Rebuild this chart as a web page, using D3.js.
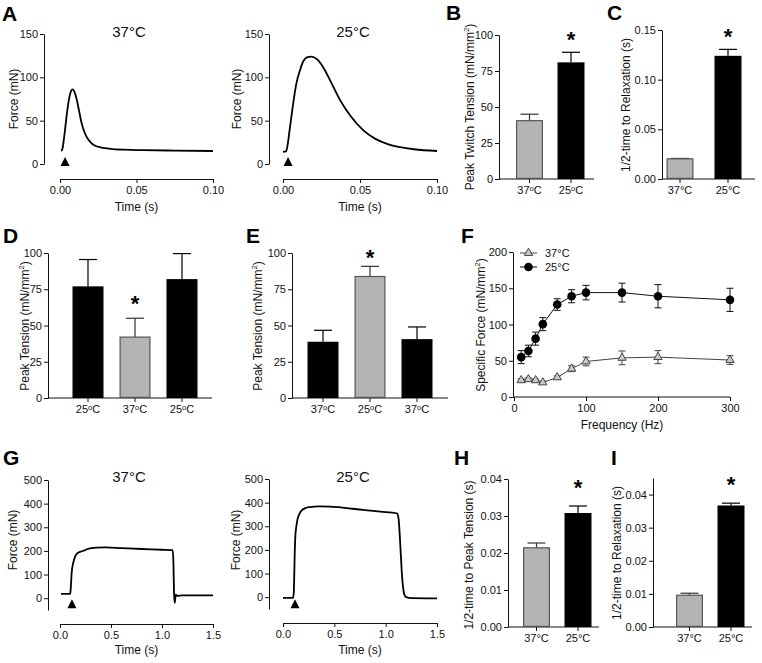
<!DOCTYPE html>
<html><head><meta charset="utf-8">
<script src="https://cdn.jsdelivr.net/npm/d3@7"></script>
<style>body{margin:0;background:#fff}svg{display:block}</style>
</head><body><svg id="fig" width="762" height="663"></svg>
<script>
// ---------------- DATA ----------------
// A: single twitch traces (time s, force mN)
const twitch37T = [0.0008,0.0015,0.003,0.0045,0.006,0.0072,0.0083,0.0095,0.011,0.0125,0.014,0.0157,0.0175,0.02,0.023,0.027,0.033,0.042,0.055,0.075,0.1];
const twitch37F = [15,17,35,58,76,84,86,83,74,61,48,38,31,25,21,19,17.5,16.5,16,15.5,15];
const twitch25T = [0,0.002,0.003,0.0045,0.006,0.0087,0.011,0.013,0.0155,0.0185,0.022,0.026,0.031,0.037,0.044,0.052,0.06,0.068,0.076,0.085,0.1];
const twitch25F = [14,14.5,22,42,62,93,108,118,123,124,121,112,95,74,55,39,29,23,19.5,17,15];
// G: tetanic traces
const tet37T = [0.01,0.1,0.105,0.115,0.13,0.15,0.17,0.19,0.21,0.24,0.27,0.31,0.36,0.45,0.6,0.8,1.0,1.105,1.112,1.118,1.125,1.135,1.15,1.2,1.5];
const tet37F = [18,18,40,110,150,178,190,195,198,202,208,212,214,215,212,208,205,203,150,20,-20,15,10,12,12];
const tet25T = [0,0.098,0.105,0.11,0.115,0.12,0.13,0.14,0.16,0.18,0.22,0.26,0.35,0.46,0.6,0.78,0.95,1.11,1.125,1.14,1.15,1.158,1.17,1.18,1.2,1.25,1.5];
const tet25F = [-3,-3,20,100,200,256,300,327,352,366,377,381,384,383,378,369,362,355,334,241,160,99,40,14,0,-4,-5];
const stimTwitch = 0.0033, stimTet = 0.117;

// B
const catsB = ["37°C","25°C"], valsB = [40.5, 81], errB = [4.5, 7];
// C
const catsC = ["37°C","25°C"], valsC = [0.0203, 0.124], errC = [0.0004, 0.0065];
// D
const catsD = ["25°C","37°C","25°C"], valsD = [77, 42, 82], errD = [18.5, 13, 17.6];
// E
const catsE = ["37°C","25°C","37°C"], valsE = [38.8, 83.8, 40.6], errE = [7.9, 7, 8.4];
// F
const freqF = [10,20,30,40,60,80,100,150,200,300];
const f25 = [55,63.5,80.5,100.5,127.5,139,144,144,139,134];
const f25err = [9,8,9,9,8,9,10,13,16,16];
const f37 = [23,24.5,23,20,27,39,49,54,55,51];
const f37err = [2,2,2,2,2,4,6,9.5,9,6];
// H
const catsH = ["37°C","25°C"], valsH = [0.0214, 0.0308], errH = [0.0013, 0.0019];
// I
const catsI = ["37°C","25°C"], valsI = [0.0096, 0.0367], errI = [0.0006, 0.0007];

// ---------------- DRAWING ----------------
const FONT = '"Liberation Sans", Arial, Helvetica, sans-serif';
const INK = "#111";
const GRAY = "#b4b4b4", GRAY_STROKE = "#555";
const svg = d3.select("#fig").attr("font-family", FONT);
svg.append("rect").attr("width",762).attr("height",663).attr("fill","#fff");

function styleAxis(g, fs){
  g.selectAll("path, line").attr("stroke", INK).attr("stroke-width", 1);
  g.selectAll("text").attr("fill", INK).attr("font-size", fs || 11).attr("font-family", FONT);
}
function letter(t, x, y){
  svg.append("text").attr("x", x).attr("y", y).text(t)
    .attr("font-size", 21).attr("font-weight", "bold").attr("fill", "#000");
}
// rich text: parts are strings or {sup:"2"}
function rich(sel, parts, fs){
  let shift = 0;
  parts.forEach(p => {
    if (typeof p === "string") {
      const t = sel.append("tspan").text(p);
      if (shift) { t.attr("dy", shift); shift = 0; }
    } else {
      sel.append("tspan").attr("dy", -fs*0.38).attr("font-size", fs*0.65).text(p.sup);
      shift = fs*0.38;
    }
  });
}
function yTitle(x, y, parts, fs){
  const t = svg.append("text").attr("transform", `translate(${x},${y}) rotate(-90)`)
    .attr("text-anchor", "middle").attr("font-size", fs).attr("fill", INK);
  rich(t, parts, fs);
}
function hText(x, y, str, fs, anchor){
  svg.append("text").attr("x", x).attr("y", y).attr("text-anchor", anchor || "middle")
    .attr("font-size", fs).attr("fill", INK).text(str);
}
function star(x, yc){
  svg.append("text").attr("x", x).attr("y", yc + 12).attr("text-anchor", "middle")
    .attr("font-size", 22).attr("font-weight", "bold").attr("fill", "#000").text("*");
}

function tracePanel(c){
  const x = d3.scaleLinear().domain(c.xDomain).range(c.xRange);
  const y = d3.scaleLinear().domain(c.yDomain).range(c.yRange);
  const gy = svg.append("g").attr("transform", `translate(${c.yAxisX},0)`)
    .call(d3.axisLeft(y).tickValues(c.yTicks).tickSize(4).tickSizeOuter(0).tickPadding(2));
  styleAxis(gy);
  const gx = svg.append("g").attr("transform", `translate(0,${c.xAxisY})`)
    .call(d3.axisBottom(x).tickValues(c.xTicks).tickFormat(d3.format(c.xFmt)).tickSize(4).tickSizeOuter(0).tickPadding(3));
  styleAxis(gx);
  const line = d3.line().x((d,i)=>x(c.T[i])).y((d,i)=>y(c.F[i])).curve(d3.curveMonotoneX);
  svg.append("path").datum(c.F).attr("d", line).attr("fill","none")
    .attr("stroke","#000").attr("stroke-width",1.8).attr("stroke-linejoin","round");
  const sx = x(c.stim), by = y(0) + c.stimOff;
  svg.append("path").attr("d", `M${sx-4.5},${by} L${sx+4.5},${by} L${sx},${by-9} Z`).attr("fill","#000");
  hText(c.titleX, c.titleY, c.title, 15);
  hText((c.xRange[0]+c.xRange[1])/2, c.xlabY, "Time (s)", 12);
  yTitle(c.ylabX, c.ylabY, ["Force (mN)"], 12);
}

function degLabel(sel, str){
  // "37°C" drawn with small superscript o
  const num = str.replace("°C","");
  sel.text(null);
  sel.append("tspan").text(num);
  sel.append("tspan").attr("dy", -3).attr("font-size", 7.5).text("o");
  sel.append("tspan").attr("dy", 3).text("C");
}

function barPanel(c){
  const n = c.cats.length;
  const y = d3.scaleLinear().domain(c.yDomain).range(c.yRange);
  const pad = 1 - c.bw / c.step;
  const xb = d3.scaleBand().domain(d3.range(n))
    .range([c.c0 - c.step/2, c.c0 + c.step*(n - 0.5)]).paddingInner(pad).paddingOuter(pad/2);
  const gy = svg.append("g").attr("transform", `translate(${c.axisX},0)`)
    .call(d3.axisLeft(y).tickValues(c.yTicks).tickFormat(c.yFmt ? d3.format(c.yFmt) : null)
      .tickSize(4).tickSizeOuter(0).tickPadding(2));
  styleAxis(gy);
  const gx = svg.append("g").attr("transform", `translate(0,${c.yRange[0]})`)
    .call(d3.axisBottom(xb).tickFormat(i => c.cats[i]).tickSize(4).tickSizeOuter(0).tickPadding(3));
  gx.select(".domain").remove();
  gx.append("line").attr("x1", c.axisX).attr("x2", c.axisEnd);
  styleAxis(gx);
  if (c.smallDeg) gx.selectAll(".tick text").each(function(i){ degLabel(d3.select(this), c.cats[i]); });
  // error bars (upper only)
  c.vals.forEach((v, i) => {
    const cx = xb(i) + xb.bandwidth()/2;
    const col = c.fills[i] === "k" ? "#000" : "#333";
    svg.append("line").attr("x1", cx).attr("x2", cx).attr("y1", y(v)).attr("y2", y(v + c.errs[i]))
      .attr("stroke", col).attr("stroke-width", 1.2);
    svg.append("line").attr("x1", cx - 9).attr("x2", cx + 9).attr("y1", y(v + c.errs[i])).attr("y2", y(v + c.errs[i]))
      .attr("stroke", col).attr("stroke-width", 1.2);
  });
  c.vals.forEach((v, i) => {
    const g = c.fills[i] !== "k";
    svg.append("rect").attr("x", xb(i) + (g ? 0.6 : 0)).attr("width", xb.bandwidth() - (g ? 1.2 : 0))
      .attr("y", y(v)).attr("height", y(c.yDomain[0]) - y(v) - (g ? 0.6 : 0))
      .attr("fill", g ? GRAY : "#000").attr("stroke", g ? GRAY_STROKE : "none").attr("stroke-width", g ? 1.2 : 0);
  });
  yTitle(c.ylabX, c.ylabY, c.ylabel, 12);
  if (c.starIdx != null) star(xb(c.starIdx) + xb.bandwidth()/2, c.starY);
}

// ---- Panel A ----
letter("A", 2, 21);
tracePanel({xDomain:[0,0.1], xRange:[60,213], yDomain:[0,150], yRange:[164,34], yAxisX:44, xAxisY:179,
  yTicks:[0,50,100,150], xTicks:[0,0.05,0.1], xFmt:".2f", T:twitch37T, F:twitch37F, stim:stimTwitch, stimOff:2,
  title:"37°C", titleX:129, titleY:37, xlabY:211, ylabX:18, ylabY:99});
tracePanel({xDomain:[0,0.1], xRange:[283,437], yDomain:[0,150], yRange:[164,34], yAxisX:269, xAxisY:179,
  yTicks:[0,50,100,150], xTicks:[0,0.05,0.1], xFmt:".2f", T:twitch25T, F:twitch25F, stim:stimTwitch, stimOff:2,
  title:"25°C", titleX:353, titleY:37, xlabY:211, ylabX:241, ylabY:99});

// ---- Panel B ----
letter("B", 446, 20);
barPanel({cats:catsB, vals:valsB, errs:errB, fills:["g","k"], yDomain:[0,100], yRange:[179,35], yTicks:[0,25,50,75,100],
  axisX:499, axisEnd:594, c0:529.5, step:41.5, bw:27, smallDeg:true,
  ylabel:["Peak Twitch Tension (mN/mm", {sup:"2"}, ")"], ylabX:474, ylabY:107, starIdx:1, starY:35});

// ---- Panel C ----
letter("C", 607, 20);
barPanel({cats:catsC, vals:valsC, errs:errC, fills:["g","k"], yDomain:[0,0.15], yRange:[179,30], yTicks:[0,0.05,0.1,0.15], yFmt:".2f",
  axisX:662, axisEnd:755, c0:680, step:48, bw:27,
  ylabel:["1/2-time to Relaxation (s)"], ylabX:630, ylabY:105, starIdx:1, starY:32});

// ---- Panel D ----
letter("D", 3, 243);
barPanel({cats:catsD, vals:valsD, errs:errD, fills:["k","g","k"], yDomain:[0,100], yRange:[398,253], yTicks:[0,25,50,75,100],
  axisX:48, axisEnd:212, c0:88, step:47, bw:31, smallDeg:true,
  ylabel:["Peak Tension (mN/mm", {sup:"2"}, ")"], ylabX:29, ylabY:326, starIdx:1, starY:299});

// ---- Panel E ----
letter("E", 246, 243);
barPanel({cats:catsE, vals:valsE, errs:errE, fills:["k","g","k"], yDomain:[0,100], yRange:[398,253], yTicks:[0,25,50,75,100],
  axisX:292, axisEnd:448, c0:323, step:47, bw:31, smallDeg:true,
  ylabel:["Peak Tension (mN/mm", {sup:"2"}, ")"], ylabX:262, ylabY:326, starIdx:1, starY:253});

// ---- Panel F ----
letter("F", 461, 243);
(function(){
  const x = d3.scaleLinear().domain([0,300]).range([514,730]);
  const y = d3.scaleLinear().domain([0,200]).range([397,252]);
  const gy = svg.append("g").attr("transform","translate(513,0)")
    .call(d3.axisLeft(y).tickValues([0,50,100,150,200]).tickSize(4).tickSizeOuter(0).tickPadding(2));
  styleAxis(gy);
  const gx = svg.append("g").attr("transform","translate(0,397)")
    .call(d3.axisBottom(x).tickValues([0,100,200,300]).tickSize(4).tickSizeOuter(0).tickPadding(3));
  gx.select(".domain").attr("d", "M513,0H730");
  styleAxis(gx);
  const series = [
    {v:f37, e:f37err, col:"#444"},
    {v:f25, e:f25err, col:"#111"}
  ];
  series.forEach(s => {
    const ln = d3.line().x((d,i)=>x(freqF[i])).y(d=>y(d));
    svg.append("path").datum(s.v).attr("d", ln).attr("fill","none").attr("stroke", s.col).attr("stroke-width",1);
    s.v.forEach((v,i) => {
      const cx = x(freqF[i]);
      svg.append("line").attr("x1",cx).attr("x2",cx).attr("y1",y(v-s.e[i])).attr("y2",y(v+s.e[i])).attr("stroke",s.col).attr("stroke-width",1);
      [v-s.e[i], v+s.e[i]].forEach(w => svg.append("line").attr("x1",cx-3.5).attr("x2",cx+3.5).attr("y1",y(w)).attr("y2",y(w)).attr("stroke",s.col).attr("stroke-width",1));
    });
  });
  const tri = d3.symbol(d3.symbolTriangle, 30);
  f37.forEach((v,i) => svg.append("path").attr("d", tri()).attr("transform",`translate(${x(freqF[i])},${y(v)})`)
    .attr("fill","#c8c8c8").attr("stroke","#444").attr("stroke-width",1));
  f25.forEach((v,i) => svg.append("circle").attr("cx", x(freqF[i])).attr("cy", y(v)).attr("r",4.3).attr("fill","#000"));
  // legend
  svg.append("line").attr("x1",520).attr("x2",537).attr("y1",253).attr("y2",253).attr("stroke","#444");
  svg.append("path").attr("d", tri()).attr("transform","translate(528.5,253)").attr("fill","#c8c8c8").attr("stroke","#444");
  hText(545, 257, "37°C", 11, "start");
  svg.append("line").attr("x1",520).attr("x2",537).attr("y1",267).attr("y2",267).attr("stroke","#111");
  svg.append("circle").attr("cx",528.5).attr("cy",267).attr("r",4.3).attr("fill","#000");
  hText(545, 271, "25°C", 11, "start");
  hText(622, 429, "Frequency (Hz)", 12);
  yTitle(485, 325, ["Specific Force (mN/mm", {sup:"2"}, ")"], 12);
})();

// ---- Panel G ----
letter("G", 3, 465);
tracePanel({xDomain:[0,1.5], xRange:[60,213], yDomain:[-50,500], yRange:[610,480], yAxisX:48, xAxisY:624,
  yTicks:[0,100,200,300,400,500], xTicks:[0,0.5,1,1.5], xFmt:".1f", T:tet37T, F:tet37F, stim:stimTet, stimOff:10,
  title:"37°C", titleX:129, titleY:482, xlabY:654, ylabX:17, ylabY:540});
tracePanel({xDomain:[0,1.5], xRange:[283,437], yDomain:[-50,500], yRange:[609,479], yAxisX:269, xAxisY:623,
  yTicks:[0,100,200,300,400,500], xTicks:[0,0.5,1,1.5], xFmt:".1f", T:tet25T, F:tet25F, stim:stimTet, stimOff:11,
  title:"25°C", titleX:353, titleY:482, xlabY:654, ylabX:240, ylabY:540});

// ---- Panel H ----
letter("H", 454, 465);
barPanel({cats:catsH, vals:valsH, errs:errH, fills:["g","k"], yDomain:[0,0.04], yRange:[627,479], yTicks:[0,0.01,0.02,0.03,0.04], yFmt:".2f",
  axisX:508, axisEnd:599, c0:536.5, step:41.5, bw:27,
  ylabel:["1/2-time to Peak Tension (s)"], ylabX:473, ylabY:555, starIdx:1, starY:483});

// ---- Panel I ----
letter("I", 611, 465);
barPanel({cats:catsI, vals:valsI, errs:errI, fills:["g","k"], yDomain:[0,0.045], yRange:[627,478], yTicks:[0,0.01,0.02,0.03,0.04], yFmt:".2f",
  axisX:653, axisEnd:752, c0:689.5, step:41.5, bw:27,
  ylabel:["1/2-time to Relaxation (s)"], ylabX:621, ylabY:553, starIdx:1, starY:480});
</script></body></html>
